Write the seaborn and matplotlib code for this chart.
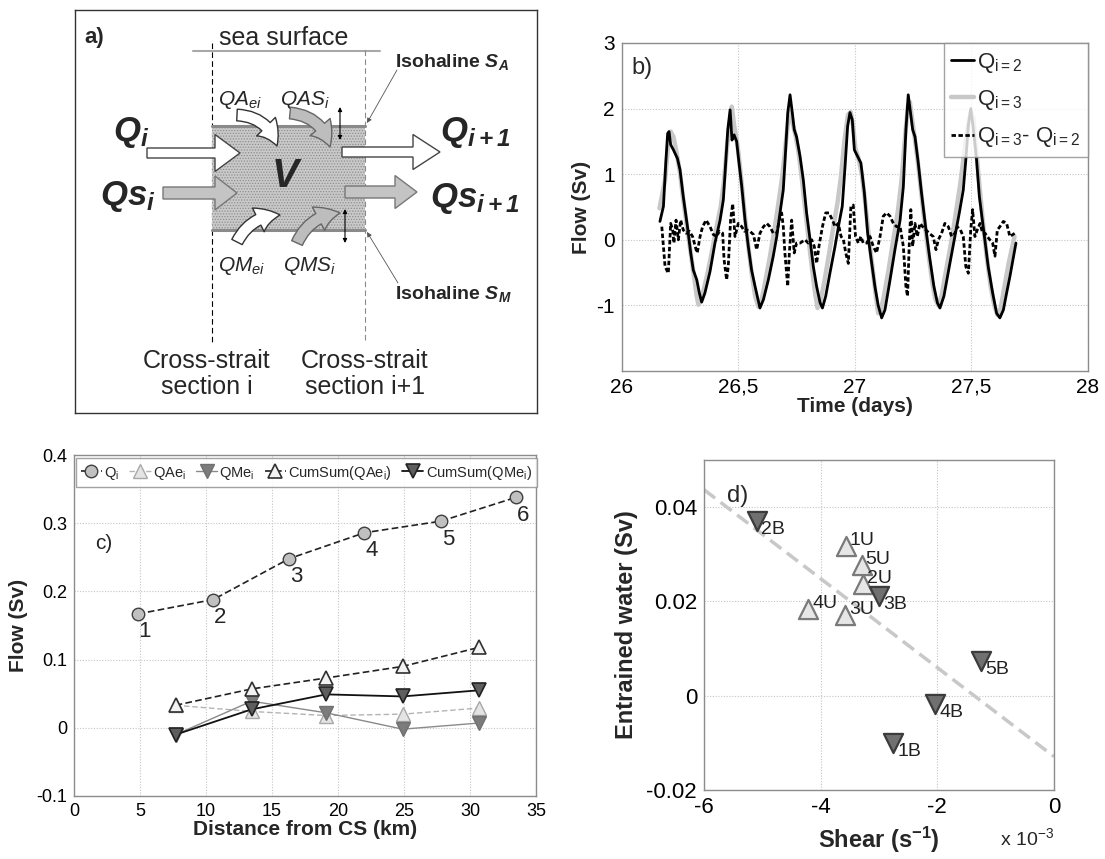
import numpy as np
import pandas as pd
import matplotlib
matplotlib.use("Agg")
import matplotlib.pyplot as plt
import matplotlib.patches as mpatches
from matplotlib.ticker import FuncFormatter, FixedLocator
import seaborn as sns

# ---------------- b) transport through sections 2 and 3 ----------------
time_q2 = [26.164, 26.179, 26.189, 26.197, 26.203, 26.210, 26.222, 26.239, 26.250, 26.264,
           26.282, 26.296, 26.307, 26.322, 26.333, 26.343, 26.357, 26.379, 26.400, 26.422,
           26.436, 26.446, 26.455, 26.465, 26.473, 26.482, 26.493, 26.500, 26.515, 26.529,
           26.543, 26.557, 26.572, 26.593, 26.608, 26.629, 26.650, 26.665, 26.679, 26.693,
           26.700, 26.712, 26.722, 26.732, 26.740, 26.750, 26.765, 26.779, 26.793, 26.808,
           26.822, 26.836, 26.851, 26.861, 26.875, 26.893, 26.915, 26.932, 26.946, 26.958,
           26.969, 26.979, 26.989, 26.998, 27.012, 27.026, 27.041, 27.055, 27.072, 27.086,
           27.100, 27.115, 27.129, 27.151, 27.172, 27.194, 27.208, 27.219, 27.229, 27.239,
           27.248, 27.258, 27.272, 27.286, 27.305, 27.322, 27.339, 27.354, 27.365, 27.382,
           27.405, 27.429, 27.448, 27.465, 27.476, 27.487, 27.497, 27.508, 27.522, 27.534,
           27.554, 27.572, 27.591, 27.608, 27.622, 27.637, 27.651, 27.665, 27.691]
flow_q2 = [0.28, 0.51, 1.17, 1.62, 1.65, 1.45, 1.37, 1.24, 1.07, 0.66,
           0.20, -0.20, -0.46, -0.61, -0.81, -0.95, -0.81, -0.48, -0.05, 0.30,
           0.61, 1.17, 1.68, 1.98, 1.52, 1.60, 1.50, 1.27, 0.81, 0.30,
           -0.10, -0.46, -0.71, -1.04, -0.91, -0.61, -0.25, 0.05, 0.41, 0.76,
           1.17, 1.93, 2.21, 1.93, 1.68, 1.57, 1.27, 0.91, 0.41, 0.00,
           -0.41, -0.71, -0.96, -1.04, -0.86, -0.51, -0.10, 0.25, 0.51, 1.12,
           1.73, 1.94, 1.83, 1.37, 1.27, 1.17, 0.71, 0.10, -0.35, -0.71,
           -1.00, -1.19, -1.07, -0.61, -0.15, 0.30, 0.81, 1.68, 2.21, 1.93,
           1.68, 1.57, 1.17, 0.71, 0.15, -0.30, -0.71, -0.96, -1.04, -0.86,
           -0.41, 0.05, 0.41, 0.76, 1.22, 1.75, 2.00, 1.70, 1.22, 0.66,
           0.10, -0.41, -0.81, -1.12, -1.19, -1.07, -0.81, -0.56, -0.05]

time_q3 = [26.162, 26.186, 26.200, 26.210, 26.222, 26.236, 26.250, 26.264, 26.282, 26.296,
           26.310, 26.322, 26.329, 26.343, 26.365, 26.386, 26.407, 26.425, 26.439, 26.453,
           26.467, 26.472, 26.482, 26.492, 26.500, 26.515, 26.529, 26.543, 26.557, 26.572,
           26.586, 26.598, 26.615, 26.636, 26.655, 26.672, 26.688, 26.700, 26.712, 26.725,
           26.735, 26.745, 26.758, 26.772, 26.786, 26.800, 26.815, 26.829, 26.840, 26.852,
           26.870, 26.890, 26.908, 26.925, 26.940, 26.955, 26.970, 26.982, 26.992, 27.002,
           27.015, 27.030, 27.045, 27.060, 27.075, 27.088, 27.100, 27.110, 27.125, 27.145,
           27.165, 27.185, 27.200, 27.215, 27.228, 27.236, 27.245, 27.255, 27.268, 27.282,
           27.298, 27.315, 27.332, 27.345, 27.358, 27.372, 27.392, 27.415, 27.435, 27.452,
           27.468, 27.482, 27.497, 27.508, 27.520, 27.535, 27.550, 27.565, 27.582, 27.598,
           27.612, 27.625, 27.640, 27.660, 27.685]
flow_q3 = [0.48, 0.91, 1.47, 1.65, 1.57, 1.32, 1.02, 0.61, 0.15, -0.20,
           -0.56, -0.86, -0.99, -0.89, -0.56, -0.20, 0.20, 0.51, 0.91, 1.47,
           1.88, 2.03, 1.75, 1.55, 1.35, 0.85, 0.35, -0.10, -0.50, -0.85,
           -1.02, -0.95, -0.65, -0.25, 0.15, 0.55, 0.95, 1.35, 1.75, 1.95,
           1.75, 1.60, 1.35, 0.95, 0.50, 0.05, -0.40, -0.80, -1.04, -0.95,
           -0.62, -0.20, 0.20, 0.55, 0.95, 1.50, 1.90, 1.95, 1.75, 1.40,
           1.25, 1.00, 0.55, 0.05, -0.40, -0.80, -1.12, -1.10, -0.85, -0.45,
           0.00, 0.45, 0.90, 1.55, 2.05, 2.10, 1.85, 1.60, 1.25, 0.80,
           0.30, -0.20, -0.65, -0.90, -1.00, -0.85, -0.45, 0.00, 0.45, 0.85,
           1.30, 1.70, 1.95, 1.85, 1.40, 0.80, 0.25, -0.25, -0.70, -1.00,
           -1.15, -1.05, -0.75, -0.35, 0.05]

time_dq = [26.172, 26.186, 26.200, 26.210, 26.219, 26.224, 26.233, 26.243, 26.253, 26.264,
           26.276, 26.290, 26.304, 26.319, 26.324, 26.336, 26.347, 26.362, 26.379, 26.393,
           26.407, 26.419, 26.433, 26.439, 26.450, 26.457, 26.467, 26.476, 26.486, 26.500,
           26.515, 26.526, 26.536, 26.550, 26.565, 26.579, 26.593, 26.608, 26.622, 26.636,
           26.650, 26.665, 26.679, 26.686, 26.693, 26.700, 26.712, 26.719, 26.729, 26.740,
           26.750, 26.765, 26.786, 26.800, 26.815, 26.826, 26.836, 26.846, 26.861, 26.875,
           26.889, 26.904, 26.915, 26.929, 26.941, 26.951, 26.961, 26.972, 26.983, 26.993,
           27.003, 27.015, 27.026, 27.036, 27.051, 27.065, 27.079, 27.093, 27.108, 27.122,
           27.136, 27.151, 27.165, 27.179, 27.194, 27.208, 27.219, 27.226, 27.233, 27.240,
           27.248, 27.258, 27.268, 27.279, 27.291, 27.305, 27.319, 27.336, 27.348, 27.358,
           27.372, 27.386, 27.401, 27.415, 27.429, 27.439, 27.453, 27.465, 27.476, 27.487,
           27.497, 27.505, 27.515, 27.525, 27.537, 27.548, 27.558, 27.568, 27.579, 27.591,
           27.601, 27.611, 27.622, 27.637, 27.651, 27.665, 27.686]
flow_dq = [0.20, -0.41, -0.51, 0.25, 0.15, -0.05, 0.30, 0.00, 0.30, 0.15,
           0.10, 0.13, 0.05, -0.15, -0.20, 0.05, 0.20, 0.30, 0.20, 0.08,
           0.05, 0.13, 0.10, -0.30, -0.61, -0.41, 0.30, 0.55, 0.05, 0.25,
           0.20, 0.13, 0.15, 0.13, 0.08, -0.15, 0.10, 0.20, 0.25, 0.20,
           0.10, 0.10, 0.36, 0.41, 0.20, -0.20, -0.71, -0.20, 0.30, -0.20,
           -0.05, -0.05, 0.00, -0.05, 0.00, -0.10, -0.36, -0.10, 0.20, 0.41,
           0.41, 0.30, 0.20, 0.25, 0.05, 0.00, -0.20, -0.36, 0.51, 0.53,
           0.05, -0.05, 0.05, -0.05, -0.05, 0.05, -0.10, -0.20, 0.05, 0.36,
           0.41, 0.36, 0.25, 0.20, 0.20, -0.10, -0.71, -0.86, -0.10, 0.46,
           -0.10, 0.25, 0.05, 0.25, 0.20, 0.15, 0.10, 0.05, -0.15, 0.00,
           0.10, 0.25, 0.20, 0.05, 0.10, 0.20, 0.15, 0.05, -0.41, -0.51,
           0.15, 0.46, 0.05, 0.15, 0.25, 0.10, 0.10, 0.05, 0.00, -0.05,
           -0.25, 0.15, 0.20, 0.28, 0.25, 0.05, 0.10]

b_xticks = [26, 26.5, 27, 27.5, 28]
b_yticks = [-1, 0, 1, 2, 3]

# ---------------- c) along-strait transport and entrainment ----------------
dist_q = [4.85, 10.55, 16.3, 22.0, 27.8, 33.5]
flow_q = [0.167, 0.188, 0.248, 0.286, 0.303, 0.338]
section_labels = ["1", "2", "3", "4", "5", "6"]
dist_e = [7.7, 13.45, 19.1, 24.9, 30.7]
flow_qae = [0.033, 0.024, 0.018, 0.020, 0.029]
flow_qme = [-0.010, 0.039, 0.022, -0.002, 0.007]
cum_qae = [0.033, 0.057, 0.073, 0.090, 0.118]
cum_qme = [-0.010, 0.027, 0.049, 0.046, 0.055]

# ---------------- d) entrained water against shear ----------------
shear_up = [-3.57, -3.27, -3.58, -4.21, -3.30]          # x 10^-3 s^-1
entr_up = [0.0318, 0.0237, 0.0172, 0.0184, 0.0278]
labels_up = ["1U", "2U", "3U", "4U", "5U"]
shear_bot = [-2.76, -5.10, -3.00, -2.04, -1.25]
entr_bot = [-0.0100, 0.0370, 0.0211, -0.0018, 0.0073]
labels_bot = ["1B", "2B", "3B", "4B", "5B"]
fit_shear = [-6.0, 0.0]
fit_entr = [0.0437, -0.0129]

# ---------------- style ----------------
sns.set_theme(style="white")
plt.rcParams["font.family"] = ["Liberation Sans", "DejaVu Sans"]
plt.rcParams["mathtext.fontset"] = "custom"
plt.rcParams["mathtext.rm"] = "Liberation Sans"
plt.rcParams["mathtext.it"] = "Liberation Sans:italic"
plt.rcParams["mathtext.bf"] = "Liberation Sans:italic:bold"
plt.rcParams["mathtext.sf"] = "Liberation Sans:bold"
plt.rcParams["hatch.linewidth"] = 0.6

W, H = 1105, 859
fig = plt.figure(figsize=(W / 100, H / 100), dpi=100)
fig.patch.set_facecolor("white")


def px_axes(x0, y0, x1, y1):
    return fig.add_axes([x0 / W, 1 - y1 / H, (x1 - x0) / W, (y1 - y0) / H])


SPINE = "#8c8c8c"
GRID = dict(ls=(0, (1, 1.5)), color="#c4c4c4", lw=0.8)


def style_axes(ax, tick_size):
    for s in ax.spines.values():
        s.set_color(SPINE)
        s.set_linewidth(1.0)
    ax.tick_params(axis="both", length=0, labelsize=tick_size, pad=5, colors="black")
    ax.grid(True, **GRID)
    ax.set_axisbelow(True)


# ================= a) schematic =================
ax_a = px_axes(75, 10, 537, 413)
ax_a.set_xlim(75, 537)
ax_a.set_ylim(413, 10)
ax_a.set_xticks([])
ax_a.set_yticks([])
for s in ax_a.spines.values():
    s.set_color("#333333")
    s.set_linewidth(1.0)

ax_a.text(84, 37, "a)", fontsize=16, fontweight="bold", ha="left", va="center")
ax_a.text(284, 38, "sea surface", fontsize=18, ha="center", va="center")
ax_a.plot([193, 380], [51, 51], color="#a8a8a8", lw=1.5)
ax_a.plot([212, 212], [43, 343], color="black", lw=0.8, ls=(0, (5, 3)))
ax_a.plot([365, 365], [50, 343], color="#8a8a8a", lw=0.8, ls=(0, (5, 3)))

ax_a.add_patch(mpatches.Rectangle((212, 126), 153, 104, facecolor="#c9c9c9",
                                  edgecolor="#8e8e8e", hatch="......", lw=0, zorder=2))
ax_a.plot([212, 365], [126, 126], color="#8a8a8a", lw=2.2, zorder=3)
ax_a.plot([212, 365], [230, 230], color="#8a8a8a", lw=2.2, zorder=3)


def block_arrow(x0, x1, y, shaft, head_w, head_l, face, edge):
    ax_a.add_patch(mpatches.FancyArrow(x0, y, x1 - x0, 0, width=shaft, head_width=head_w,
                                       head_length=head_l, length_includes_head=True,
                                       facecolor=face, edgecolor=edge, lw=1.0, zorder=4))


block_arrow(147, 240, 153, 10, 37, 25, "white", "#444444")
block_arrow(163, 237, 193, 12, 34, 22, "#c4c4c4", "#777777")
block_arrow(342, 440, 152, 10, 35, 27, "white", "#444444")
block_arrow(345, 417, 192, 12, 33, 22, "#c4c4c4", "#777777")


def curved_arrow(p0, p1, rad, face, edge):
    ax_a.add_patch(mpatches.FancyArrowPatch(
        p0, p1, connectionstyle=f"arc3,rad={rad}",
        arrowstyle="simple,head_length=0.8,head_width=0.95,tail_width=0.42",
        mutation_scale=20, facecolor=face, edgecolor=edge, lw=1.0,
        shrinkA=0, shrinkB=0, zorder=5))


curved_arrow((237, 115), (277, 146), -0.35, "white", "#333333")
curved_arrow((290, 113), (330, 147), -0.35, "#bdbdbd", "#666666")
curved_arrow((237, 242), (280, 215), -0.3, "white", "#333333")
curved_arrow((297, 243), (340, 213), -0.3, "#bdbdbd", "#666666")

for xa, ya, yb in [(340, 107, 140), (345, 209, 243)]:
    ax_a.annotate("", xy=(xa, ya), xytext=(xa, yb),
                  arrowprops=dict(arrowstyle="<|-|>", lw=0.8, color="black",
                                  shrinkA=0, shrinkB=0, mutation_scale=6), zorder=6)

ax_a.annotate("", xy=(367, 123), xytext=(397, 70),
              arrowprops=dict(arrowstyle="-|>", lw=0.6, color="#555555",
                              shrinkA=0, shrinkB=0, mutation_scale=7))
ax_a.annotate("", xy=(367, 232), xytext=(398, 283),
              arrowprops=dict(arrowstyle="-|>", lw=0.6, color="#555555",
                              shrinkA=0, shrinkB=0, mutation_scale=7))

ax_a.text(113, 132, r"$\mathbf{Q_i}$", fontsize=25, ha="left", va="center", zorder=7)
ax_a.text(100, 196, r"$\mathbf{Qs_i}$", fontsize=25, ha="left", va="center", zorder=7)
ax_a.text(440, 132, r"$\mathbf{Q_{i+1}}$", fontsize=25, ha="left", va="center", zorder=7)
ax_a.text(430, 198, r"$\mathbf{Qs_{i+1}}$", fontsize=25, ha="left", va="center", zorder=7)
ax_a.text(285, 176, "V", fontsize=29, fontweight="bold", fontstyle="italic",
          ha="center", va="center", zorder=7)
ax_a.text(218, 100, r"$QA_{ei}$", fontsize=15, ha="left", va="center")
ax_a.text(280, 100, r"$QAS_i$", fontsize=15, ha="left", va="center")
ax_a.text(218, 266, r"$QM_{ei}$", fontsize=15, ha="left", va="center")
ax_a.text(283, 266, r"$QMS_i$", fontsize=15, ha="left", va="center")
ax_a.text(395, 62, r"Isohaline $\mathbf{S_A}$", fontsize=14, fontweight="bold",
          ha="left", va="center")
ax_a.text(395, 294, r"Isohaline $\mathbf{S_M}$", fontsize=14, fontweight="bold",
          ha="left", va="center")
ax_a.text(207, 374, "Cross-strait\nsection i", fontsize=18, ha="center", va="center",
          linespacing=1.08)
ax_a.text(365, 374, "Cross-strait\nsection i+1", fontsize=18, ha="center", va="center",
          linespacing=1.08)

# ================= b) time series =================
ax_b = px_axes(621.7, 43, 1088, 371)
sns.lineplot(x=time_q2, y=flow_q2, ax=ax_b, color="black", lw=2.0, estimator=None,
             sort=False, label=r"Q$_{\mathrm{i=2}}$", zorder=3)
sns.lineplot(x=time_q3, y=flow_q3, ax=ax_b, color="#c8c8c8", lw=3.2, estimator=None,
             sort=False, label=r"Q$_{\mathrm{i=3}}$", zorder=2)
sns.lineplot(x=time_dq, y=flow_dq, ax=ax_b, color="black", lw=2.0, estimator=None,
             sort=False, label=r"Q$_{\mathrm{i=3}}$- Q$_{\mathrm{i=2}}$", zorder=4,
             linestyle=(0, (1.6, 0.9)))
ax_b.set_xlim(26, 28)
ax_b.set_ylim(-2, 3)
ax_b.xaxis.set_major_locator(FixedLocator(b_xticks))
ax_b.yaxis.set_major_locator(FixedLocator(b_yticks))
ax_b.xaxis.set_major_formatter(FuncFormatter(lambda v, p: f"{v:g}".replace(".", ",")))
ax_b.yaxis.set_major_formatter(FuncFormatter(lambda v, p: f"{v:g}"))
style_axes(ax_b, 15)
ax_b.set_xlabel("Time (days)", fontsize=15, fontweight="bold", labelpad=0)
ax_b.set_ylabel("Flow (Sv)", fontsize=15, fontweight="bold", labelpad=4)
ax_b.text(0.02, 0.925, "b)", transform=ax_b.transAxes, fontsize=17, ha="left", va="center")
leg_b = ax_b.legend(loc="upper right", bbox_to_anchor=(1.0, 1.0), borderaxespad=0,
                    fontsize=16, handlelength=1.0, handletextpad=0.15, labelspacing=0.6,
                    borderpad=0.35, frameon=True, fancybox=False)
leg_b.get_frame().set_edgecolor(SPINE)
leg_b.get_frame().set_linewidth(1.0)

# ================= c) flow along the strait =================
ax_c = px_axes(74, 455, 536, 796)
sns.lineplot(x=dist_q, y=flow_q, ax=ax_c, color="#222222", lw=1.2, linestyle=(0, (4, 2)),
             marker="o", markersize=9, markerfacecolor="#c0c0c0", markeredgecolor="#404040",
             markeredgewidth=1.0, estimator=None, sort=False, label=r"Q$_\mathrm{i}$")
sns.lineplot(x=dist_e, y=flow_qae, ax=ax_c, color="#b4b4b4", lw=1.0, linestyle=(0, (4, 2)),
             marker="^", markersize=10, markerfacecolor="#e4e4e4", markeredgecolor="#a8a8a8",
             markeredgewidth=1.0, estimator=None, sort=False, label=r"QAe$_\mathrm{i}$")
sns.lineplot(x=dist_e, y=flow_qme, ax=ax_c, color="#8a8a8a", lw=1.0,
             marker="v", markersize=10, markerfacecolor="#7c7c7c", markeredgecolor="#707070",
             markeredgewidth=1.0, estimator=None, sort=False, label=r"QMe$_\mathrm{i}$")
sns.lineplot(x=dist_e, y=cum_qae, ax=ax_c, color="#222222", lw=1.2, linestyle=(0, (4, 2)),
             marker="^", markersize=10, markerfacecolor="#f2f2f2", markeredgecolor="#303030",
             markeredgewidth=1.2, estimator=None, sort=False,
             label=r"CumSum(QAe$_\mathrm{i}$)")
sns.lineplot(x=dist_e, y=cum_qme, ax=ax_c, color="#111111", lw=1.3,
             marker="v", markersize=10, markerfacecolor="#5e5e5e", markeredgecolor="#222222",
             markeredgewidth=1.2, estimator=None, sort=False,
             label=r"CumSum(QMe$_\mathrm{i}$)")
for xq, yq, lab in zip(dist_q, flow_q, section_labels):
    ax_c.annotate(lab, (xq, yq), xytext=(5, -13), textcoords="offset points",
                  fontsize=16, ha="center", va="center")
ax_c.set_xlim(0, 35)
ax_c.set_ylim(-0.1, 0.4)
ax_c.xaxis.set_major_locator(FixedLocator([0, 5, 10, 15, 20, 25, 30, 35]))
ax_c.yaxis.set_major_locator(FixedLocator([-0.1, 0, 0.1, 0.2, 0.3, 0.4]))
ax_c.yaxis.set_major_formatter(FuncFormatter(lambda v, p: f"{v:g}"))
style_axes(ax_c, 13)
ax_c.set_xlabel("Distance from CS (km)", fontsize=15, fontweight="bold", labelpad=0)
ax_c.set_ylabel("Flow (Sv)", fontsize=15, fontweight="bold", labelpad=6)
ax_c.text(0.045, 0.74, "c)", transform=ax_c.transAxes, fontsize=15, ha="left", va="center")
leg_c = ax_c.legend(loc="upper center", bbox_to_anchor=(0.503, 0.99), ncol=5,
                    fontsize=10.5, handlelength=1.45, handletextpad=0.15,
                    columnspacing=0.7, borderpad=0.35, borderaxespad=0,
                    frameon=True, fancybox=False)
leg_c.get_frame().set_edgecolor(SPINE)
leg_c.get_frame().set_linewidth(1.0)

# ================= d) entrainment vs shear =================
ax_d = px_axes(704, 460, 1054, 790)
sns.lineplot(x=fit_shear, y=fit_entr, ax=ax_d, color="#c8c8c8", lw=2.5,
             linestyle=(0, (4, 2)), estimator=None, sort=False, zorder=2)
sns.scatterplot(x=shear_up, y=entr_up, ax=ax_d, marker="^", s=190, color="#e6e6e6",
                edgecolor="#7a7a7a", linewidth=1.6, zorder=3)
sns.scatterplot(x=shear_bot, y=entr_bot, ax=ax_d, marker="v", s=190, color="#707070",
                edgecolor="#3c3c3c", linewidth=1.6, zorder=3)
for xs, ys, lab in zip(shear_up, entr_up, labels_up):
    ax_d.annotate(lab, (xs, ys), xytext=(3, 4), textcoords="offset points",
                  fontsize=14, ha="left", va="center", color="#222222")
for xs, ys, lab in zip(shear_bot, entr_bot, labels_bot):
    ax_d.annotate(lab, (xs, ys), xytext=(3, -6), textcoords="offset points",
                  fontsize=14, ha="left", va="center", color="#222222")
ax_d.set_xlim(-6, 0)
ax_d.set_ylim(-0.02, 0.05)
ax_d.xaxis.set_major_locator(FixedLocator([-6, -4, -2, 0]))
ax_d.yaxis.set_major_locator(FixedLocator([-0.02, 0, 0.02, 0.04]))
ax_d.xaxis.set_major_formatter(FuncFormatter(lambda v, p: f"{v:g}"))
ax_d.yaxis.set_major_formatter(FuncFormatter(lambda v, p: f"{v:g}"))
style_axes(ax_d, 16)
ax_d.set_xlabel(r"Shear (s$^{\mathsf{-1}}$)", fontsize=17, fontweight="bold", labelpad=5)
ax_d.set_ylabel("Entrained water (Sv)", fontsize=17, fontweight="bold", labelpad=6)
ax_d.text(0.065, 0.89, "d)", transform=ax_d.transAxes, fontsize=17, ha="left", va="center")
ax_d.text(1.0, -0.145, r"x 10$^{\mathrm{-3}}$", transform=ax_d.transAxes, fontsize=14,
          ha="right", va="center")
if ax_d.get_legend() is not None:
    ax_d.get_legend().remove()

fig.savefig("out.png", dpi=100, facecolor="white")
